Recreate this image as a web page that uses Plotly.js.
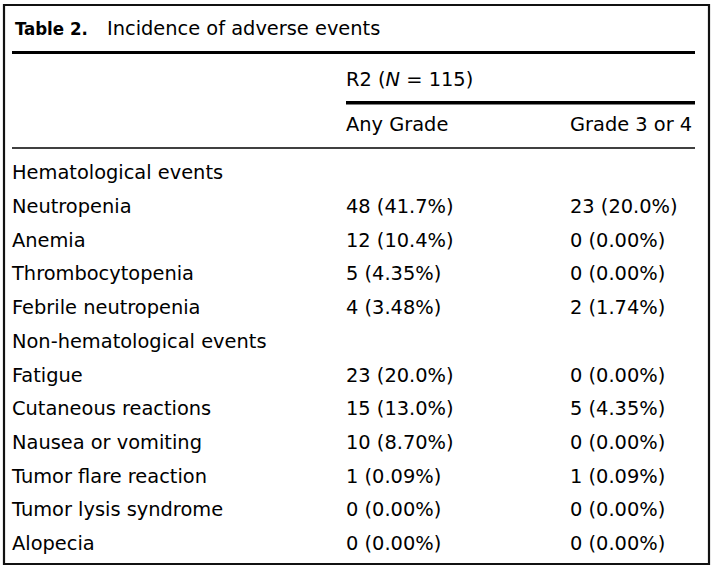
<!DOCTYPE html>
<html><head><script src="https://cdn.plot.ly/plotly-3.0.1.min.js"></script></head>
<body style="margin:0">
<div id="g" style="width:711px;height:571px"></div>
<script>
// ---- data ----
const eventLabels = ["Hematological events","Neutropenia","Anemia","Thrombocytopenia","Febrile neutropenia",
  "Non-hematological events","Fatigue","Cutaneous reactions","Nausea or vomiting","Tumor flare reaction",
  "Tumor lysis syndrome","Alopecia"];
const anyGrade = ["","48 (41.7%)","12 (10.4%)","5 (4.35%)","4 (3.48%)","","23 (20.0%)","15 (13.0%)","10 (8.70%)","1 (0.09%)","0 (0.00%)","0 (0.00%)"];
const grade34  = ["","23 (20.0%)","0 (0.00%)","0 (0.00%)","2 (1.74%)","","0 (0.00%)","5 (4.35%)","0 (0.00%)","1 (0.09%)","0 (0.00%)","0 (0.00%)"];
const groupHeader = ["","R2 (<i>N</i> = 115)",""];
const subHeader = ["","Any Grade","Grade 3 or 4"];
const tableNumber = "Table 2.";
const tableTitle = "Incidence of adverse events";

// ---- layout helpers ----
const W=711,H=571;
const px=x=>x/W, py=y=>1-y/H;
const FONT="DejaVu Sans";
const fnt={family:FONT,size:19.4,color:'#000'};
const colW=[334,224,149];
const X0=4;
const clear={color:'rgba(0,0,0,0)'};
const noLine={width:0,color:'rgba(0,0,0,0)'};

const tHead={type:'table',domain:{x:[px(X0),1],y:[py(155),py(60)]},
  columnwidth:colW,
  header:{values:groupHeader,height:48.5,align:'left',font:fnt,fill:clear,line:noLine},
  cells:{values:subHeader.map(v=>[v]),height:45,align:'left',font:fnt,fill:clear,line:noLine}};
const tBody={type:'table',domain:{x:[px(X0),1],y:[py(566),py(156.8)]},
  columnwidth:colW,
  header:{values:[eventLabels[0],anyGrade[0],grade34[0]],height:33.7,align:'left',font:fnt,fill:clear,line:noLine},
  cells:{values:[eventLabels.slice(1),anyGrade.slice(1),grade34.slice(1)],height:33.7,align:'left',font:fnt,fill:clear,line:noLine}};

const shapes=[
  {type:'rect',xref:'paper',yref:'paper',x0:px(4),x1:px(709),y0:py(564),y1:py(5),line:{color:'#111',width:2.2}},
  {type:'line',xref:'paper',yref:'paper',x0:px(12),x1:px(695),y0:py(52.5),y1:py(52.5),line:{color:'#000',width:3.2}},
  {type:'line',xref:'paper',yref:'paper',x0:px(346),x1:px(695),y0:py(102.8),y1:py(102.8),line:{color:'#000',width:3.4}},
  {type:'line',xref:'paper',yref:'paper',x0:px(12),x1:px(695),y0:py(148),y1:py(148),line:{color:'#000',width:1.5}}
];
const anns=[
  {xref:'paper',yref:'paper',x:px(13),y:py(29),xanchor:'left',yanchor:'middle',showarrow:false,text:'<b>'+tableNumber+'</b>',font:{family:"DejaVu Sans Condensed",size:18.5,color:'#000'}},
  {xref:'paper',yref:'paper',x:px(105),y:py(29),xanchor:'left',yanchor:'middle',showarrow:false,text:tableTitle,font:fnt}
];
Plotly.newPlot('g',[tHead,tBody],{width:W,height:H,margin:{l:0,r:0,t:0,b:0},paper_bgcolor:'#fff',shapes:shapes,annotations:anns},{staticPlot:true});
</script></body></html>
